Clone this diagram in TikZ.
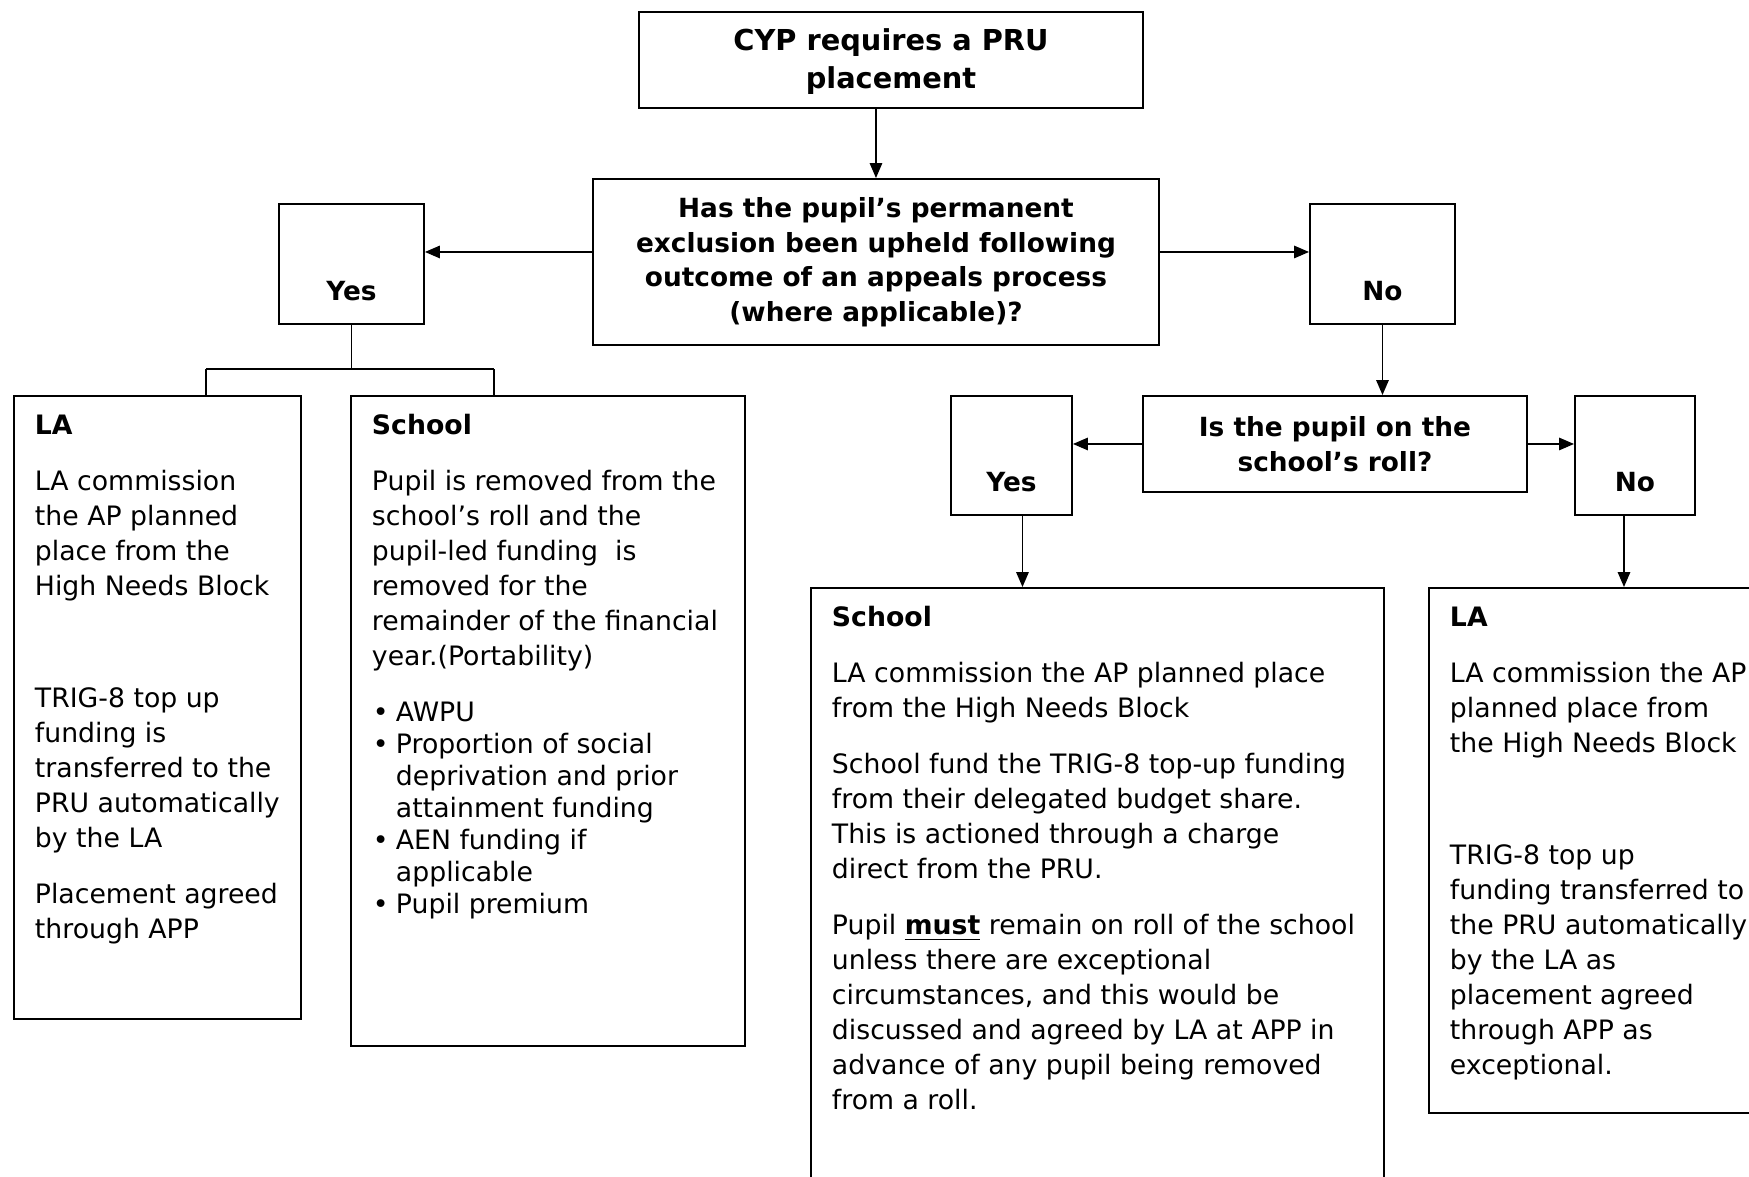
\documentclass[tikz,border=0pt]{standalone}
\usepackage{fontspec}
\setmainfont{DejaVu Sans}
\usetikzlibrary{arrows.meta, calc}

% text of the funding panels: top aligned, fixed size box
\newcommand{\panelbody}[3]{%
  \begin{minipage}[c][#2][t]{#1}%
    \raggedright\setlength{\leftskip}{2.1mm}%
    \fontsize{7.6pt}{3.5mm}\selectfont
    \rule{0pt}{3.85mm}#3%
  \end{minipage}}
\newcommand{\bulletitem}{\hspace*{0.1mm}\makebox[2.3mm][l]{\textbullet}}
\newcommand{\bulletcont}{\hspace*{2.4mm}}

\begin{document}
\begin{tikzpicture}[x=0.1mm, y=-0.1mm, >={Triangle[length=1.5mm, width=1.25mm]},
    question/.style={draw, line width=0.55pt, align=center, inner sep=0pt,
      anchor=north west, font=\bfseries\fontsize{7.5pt}{3.45mm}\selectfont},
    answer/.style={draw, line width=0.55pt, anchor=north west, inner sep=0pt,
      text height=9.7mm, text depth=2.3mm,
      font=\bfseries\fontsize{7.5pt}{3.5mm}\selectfont},
    panel/.style={draw, line width=0.55pt, anchor=north west, inner sep=0pt},
    link/.style={line width=0.45pt}]
  \useasboundingbox (0,0) rectangle (1749,1176);
  \fill[white] (0,0) rectangle (1749,1176);
  \clip (0,0) rectangle (1749,1176);

  % Questions
  \node[question, font=\bfseries\fontsize{8.2pt}{3.8mm}\selectfont,
        minimum width=50.4mm, minimum height=9.6mm] (cyp) at (638,11)
      {\rule{0pt}{2.6mm}CYP requires a PRU\\placement};
  \node[question, minimum width=56.6mm, minimum height=16.6mm] (excl) at (592,178)
      {Has the pupil’s permanent\\exclusion been upheld following\\outcome of an appeals process\\(where applicable)?};
  \node[question, minimum width=38.4mm, minimum height=9.6mm] (roll) at (1142,395)
      {Is the pupil on the\\school’s roll?};

  % Answers
  \node[answer, minimum width=14.5mm] (yesA) at (278,203) {Yes};
  \node[answer, minimum width=14.5mm] (noA) at (1309,203) {No};
  \node[answer, minimum width=12.1mm, text height=9.6mm] (yesB) at (950,395) {Yes};
  \node[answer, minimum width=12.0mm, text height=9.6mm] (noB) at (1574,395) {No};

  % Funding panels
  \node[panel] (laA) at (13,395) {\panelbody{28.7mm}{62.3mm}{%
    \textbf{LA}\\[2.1mm]
    LA commission\\the AP planned\\place from the\\High Needs Block\\[2.1mm]
    \mbox{}\\[2.1mm]
    TRIG-8 top up\\funding is\\transferred to the\\PRU automatically\\by the LA\\[2.1mm]
    Placement agreed\\through APP}};
  \node[panel] (schoolA) at (350,395) {\panelbody{39.4mm}{65.0mm}{%
    \textbf{School}\\[2.1mm]
    Pupil is removed from the\\school’s roll and the\\pupil-led funding\ \ is\\removed for the\\remainder of the financial\\year.(Portability)\\[2.4mm]
    \fontsize{7.6pt}{3.2mm}\selectfont
    \bulletitem AWPU\\
    \bulletitem Proportion of social\\ \bulletcont deprivation and prior\\ \bulletcont attainment funding\\
    \bulletitem AEN funding if\\ \bulletcont applicable\\
    \bulletitem Pupil premium}};
  \node[panel] (schoolB) at (810,587) {\panelbody{57.3mm}{62.0mm}{%
    \textbf{School}\\[2.1mm]
    LA commission the AP planned place\\from the High Needs Block\\[2.1mm]
    School fund the TRIG-8 top-up funding\\from their delegated budget share.\\This is actioned through a charge\\direct from the PRU.\\[2.1mm]
    Pupil \underline{\textbf{must}} remain on roll of the school\\unless there are exceptional\\circumstances, and this would be\\discussed and agreed by LA at APP in\\advance of any pupil being removed\\from a roll.}};
  \node[panel] (laB) at (1428,587) {\panelbody{34.2mm}{52.5mm}{%
    \textbf{LA}\\[2.1mm]
    LA commission the AP\\planned place from\\the High Needs Block\\[2.1mm]
    \mbox{}\\[2.1mm]
    TRIG-8 top up\\funding transferred to\\the PRU automatically\\by the LA as\\placement agreed\\through APP as\\exceptional.}};

  % Connectors
  \draw[link, ->] (cyp.south -| excl.north) -- (excl.north);
  \draw[link, ->] ([yshift=1mm]excl.west) -- ([yshift=1mm]excl.west -| yesA.east);
  \draw[link, ->] ([yshift=1mm]excl.east) -- ([yshift=1mm]excl.east -| noA.west);
  \draw[link, ->] (noA.south) -- (noA.south |- roll.north);
  \draw[link, ->] (roll.west) -- (roll.west -| yesB.east);
  \draw[link, ->] (roll.east) -- (roll.east -| noB.west);
  \draw[link, ->] ([xshift=1.1mm]yesB.south) -- ([xshift=1.1mm]yesB.south |- schoolB.north);
  \draw[link, ->] ([xshift=-1.1mm]noB.south) -- ([xshift=-1.1mm]noB.south |- laB.north);

  % Fork below the first Yes
  \coordinate (fork) at (350,369);
  \coordinate (forkL) at (206,369);
  \coordinate (forkR) at (494,369);
  \draw[link] (yesA.south) -- (yesA.south |- fork);
  \draw[link] (forkL) -- (forkR);
  \draw[link] (forkL) -- (forkL |- laA.north);
  \draw[link] (forkR) -- (forkR |- schoolA.north);
\end{tikzpicture}
\end{document}
